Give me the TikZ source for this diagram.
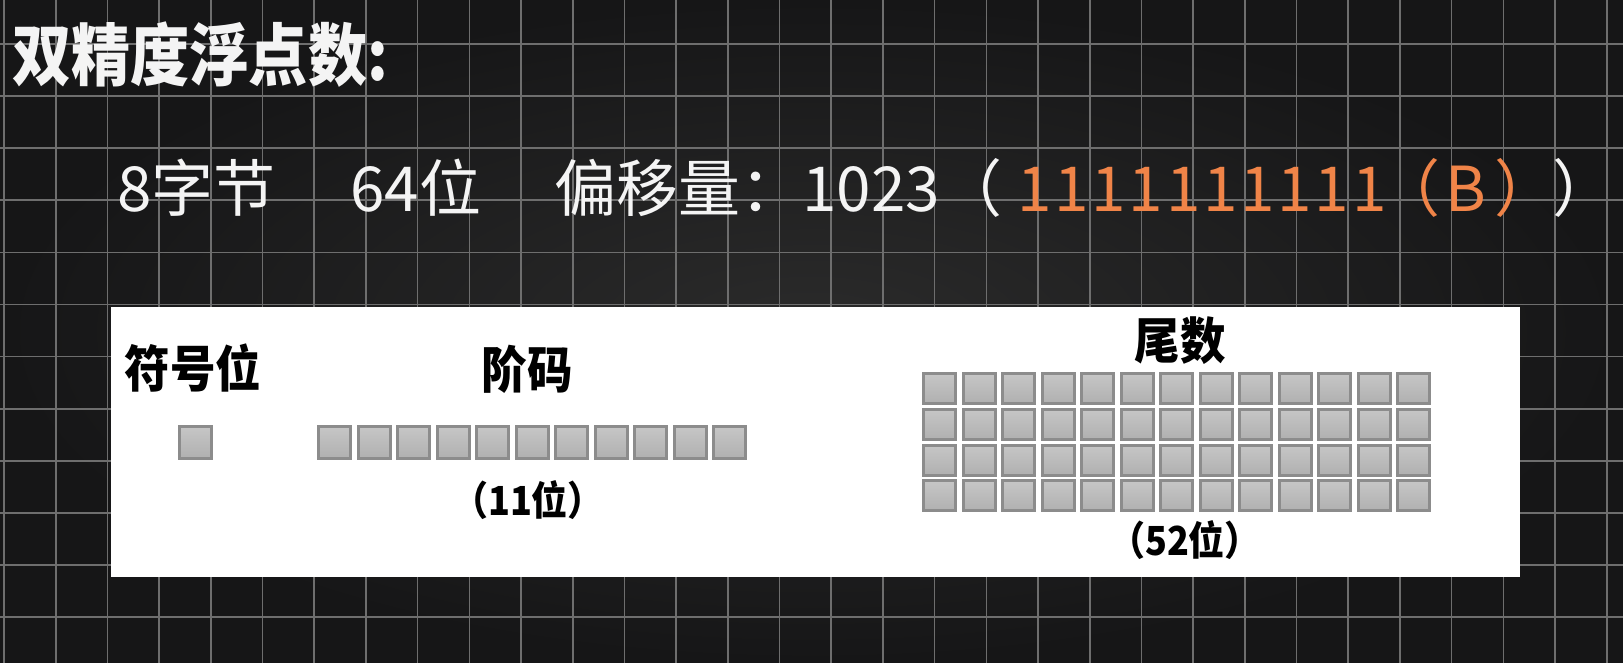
\documentclass[tikz,border=0pt]{standalone}
\usepackage{fontspec}
\setmainfont{Noto Sans CJK SC}
\usepackage{tikz}
\usetikzlibrary{positioning}
\definecolor{fpbg}{HTML}{161617}
\definecolor{fpbgmid}{HTML}{2B2B2B}
\definecolor{fpgrid}{HTML}{6E6E6E}
\definecolor{fpink}{HTML}{F4F4F4}
\definecolor{fporange}{HTML}{F08448}
\definecolor{fpcelltop}{HTML}{C6C6C6}
\definecolor{fpcellbot}{HTML}{B0B0B0}
\definecolor{fpcelledge}{HTML}{8C8C8C}
\tikzset{
  gridline/.style  = {draw=fpgrid, line width=1.6pt},
  headline/.style  = {anchor=base west, inner sep=0pt, text=fpink,
                      font=\fontsize{68}{72}\selectfont\bfseries\addfontfeature{FakeStretch=0.87}},
  infoline/.style  = {anchor=base west, inner sep=0pt, text=fpink,
                      font=\fontsize{62}{66}\selectfont},
  hiline/.style    = {infoline, text=fporange},
  panel/.style     = {rectangle, fill=white, draw=none, anchor=north west,
                      minimum width=1409pt, minimum height=270pt, inner sep=0pt},
  fieldname/.style = {inner sep=0pt, text=black,
                      font=\fontsize{50}{54}\selectfont\bfseries\addfontfeature{FakeStretch=0.91}},
  fieldsize/.style = {inner sep=0pt, text=black,
                      font=\fontsize{40}{44}\selectfont\bfseries\addfontfeature{FakeStretch=0.9}},
  bitcell/.style   = {rectangle, draw=fpcelledge, line width=3pt,
                      top color=fpcelltop, bottom color=fpcellbot,
                      minimum width=32pt, minimum height=32pt, inner sep=0pt},
}
\begin{document}
\begin{tikzpicture}[x=1pt, y=-1pt]
% backdrop with grid
\useasboundingbox (0,0) rectangle (1623,663);
\shade[inner color=fpbgmid, outer color=fpbg] (0,0) rectangle (1623,663);
\foreach \k in {0,...,31}
  \draw[gridline] ({4+51.7*\k},0) -- ({4+51.7*\k},663);
\foreach \k in {0,...,11}
  \draw[gridline] (0,{44+52.1*\k}) -- (1623,{44+52.1*\k});

% heading text
\node[headline] (title) at (12,81) {双精度浮点数:};
\node[infoline] (bytes) at (117,212) {8字节};
\node[infoline] (bits) at (350,212) {64位};
\node[infoline] (bias) at (554,212) {偏移量：1023};
\node[infoline, anchor=base east] (lparen) at (1003,212) {（};
\node[hiline, font=\fontsize{62}{66}\selectfont\addfontfeature{LetterSpace=4.5}] (ones) at (1017,212) {1111111111};
\node[hiline, anchor=base east] (radixl) at (1441,212) {（};
\node[hiline] (radixb) at (1445,212) {B};
\node[hiline] (radixr) at (1494,212) {）};
\node[infoline] (rparen) at (1552,212) {）};

% layout of the 64 bits
\node[panel] (panel) at (111,307) {};
\node[fieldname] (signlbl) at (193,368) {符号位};
\node[fieldname] (explbl) at (527,369) {阶码};
\node[fieldname] (mantlbl) at (1180,341) {尾数};
\node[fieldsize] (expsize) at (528,500) {（11位）};
\node[fieldsize] (mantsize) at (1185,540) {（52位）};

\node[bitcell] (s0) at (195.5,442.5) {};
\foreach \i in {0,...,10}
  \node[bitcell] (e\i) at ({334.5+39.5*\i},442.5) {};
\foreach \r in {0,...,3}
  \foreach \c in {0,...,12}
    \node[bitcell, minimum height=30pt] (m\r-\c) at ({939.5+39.5*\c},{388.5+35.8*\r}) {};
\end{tikzpicture}
\end{document}
